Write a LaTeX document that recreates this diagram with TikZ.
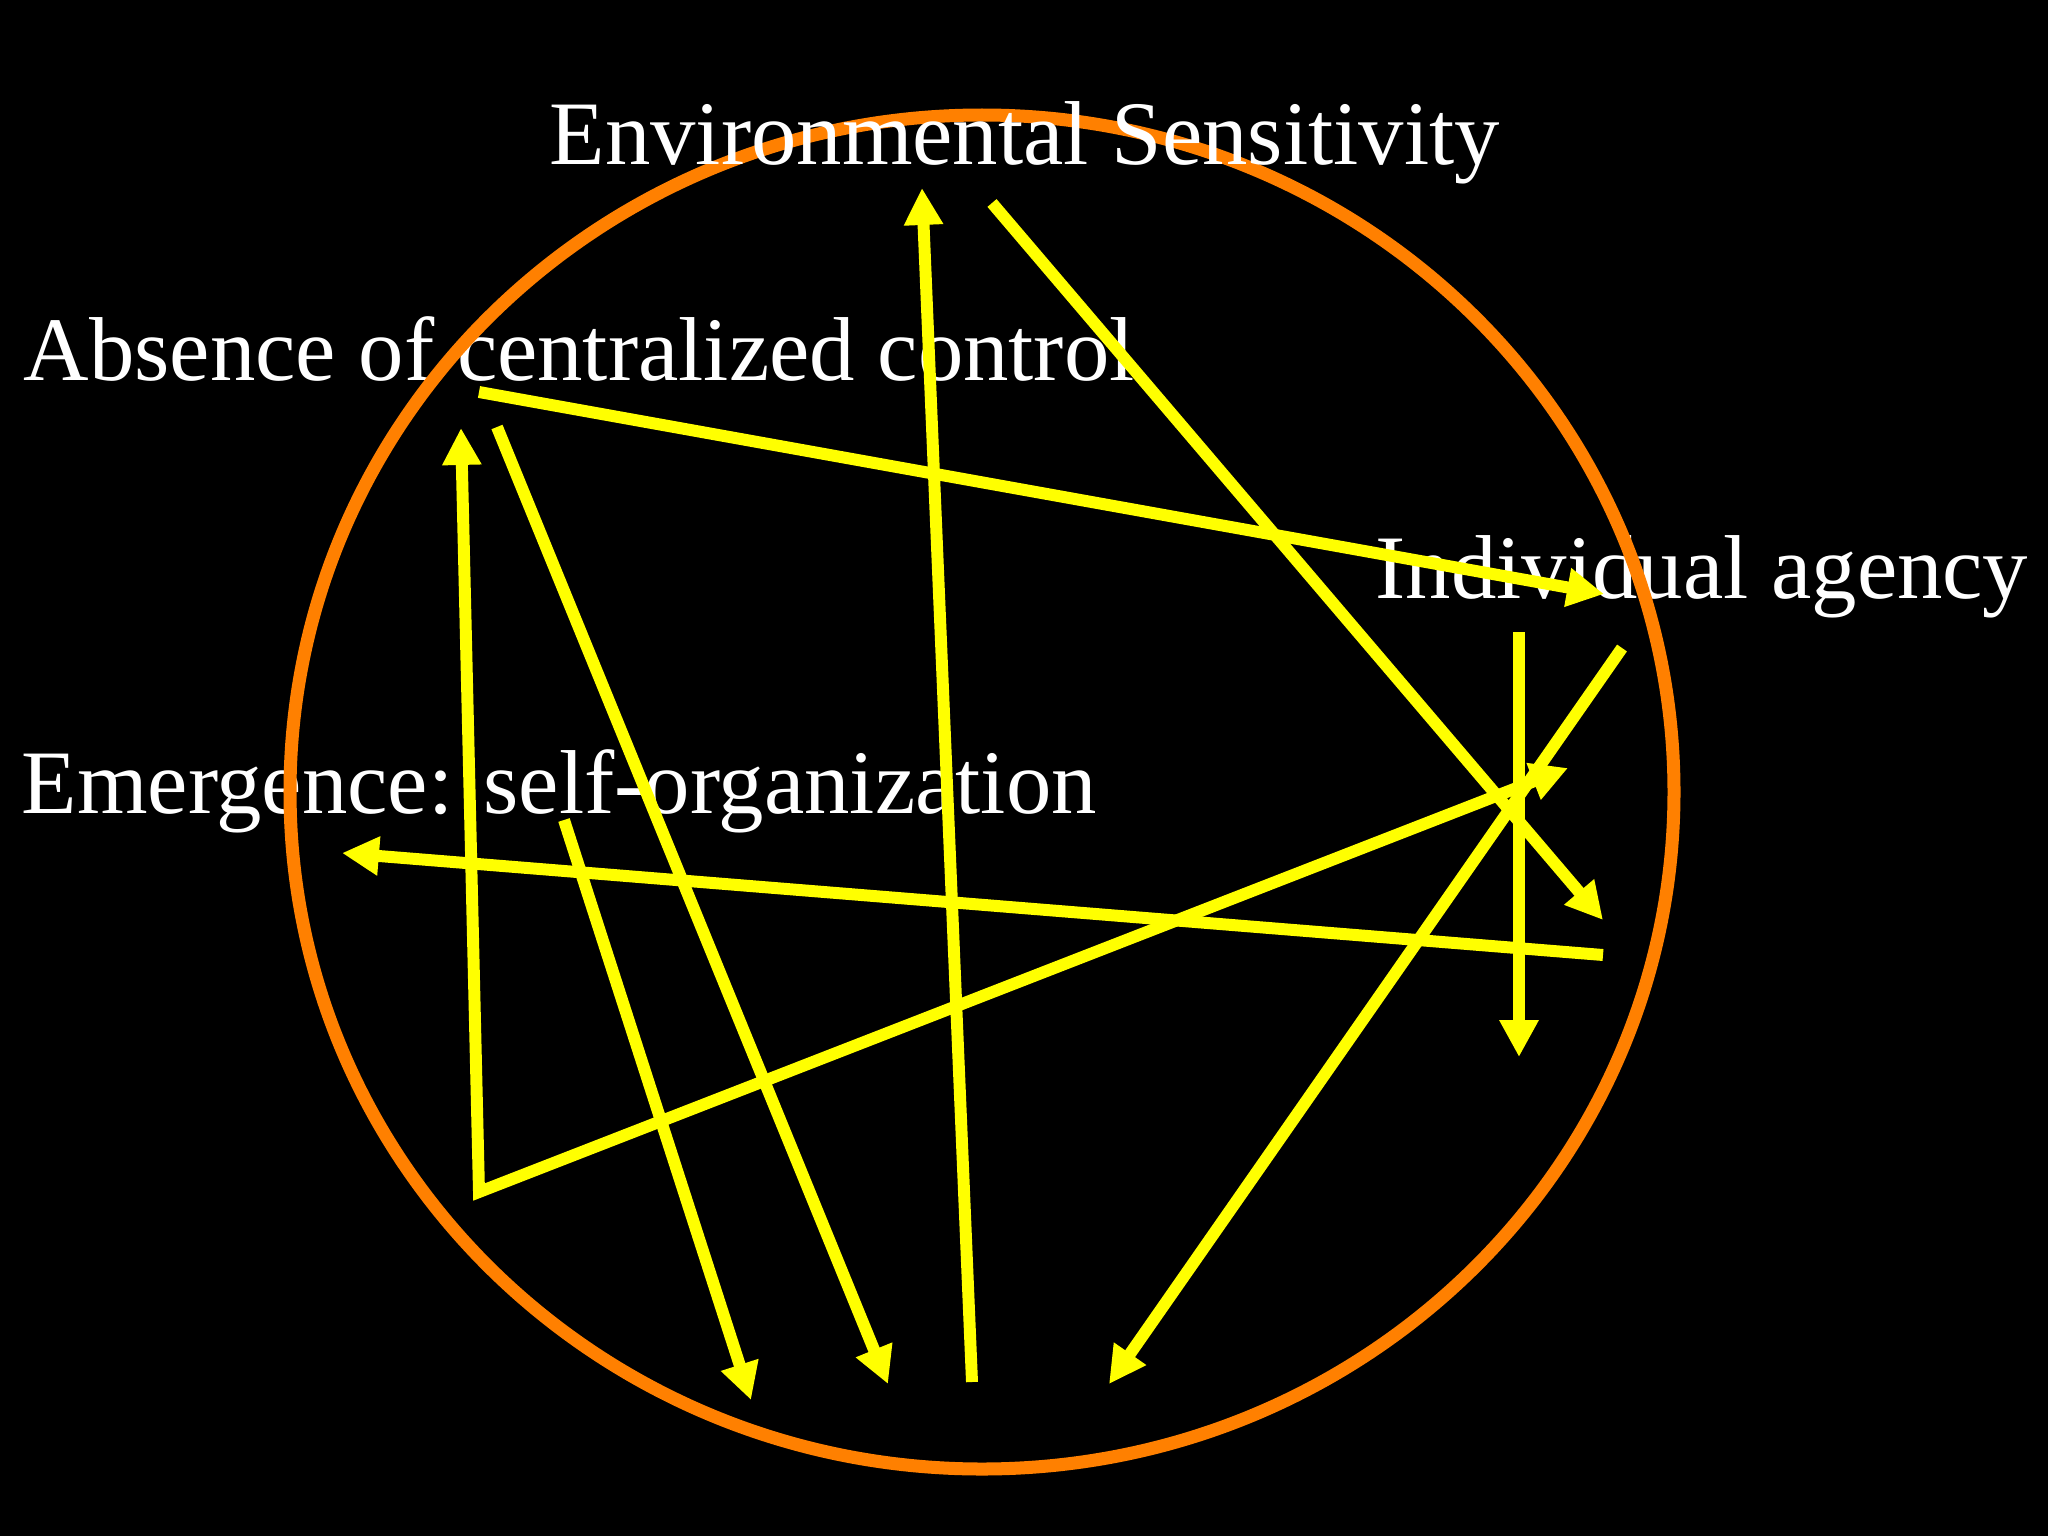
\documentclass[tikz,border=0pt]{standalone}
\usepackage{fontspec}
\setmainfont{Liberation Serif}
\usetikzlibrary{arrows.meta}
\definecolor{ringorange}{RGB}{255,128,0}
\definecolor{linkyellow}{RGB}{255,255,0}

\begin{document}
\begin{tikzpicture}[x = 0.01cm, y = -0.01cm,
        topic/.style = {text = white, anchor = base west, inner sep = 0pt, font = \fontsize{25.8}{30}\selectfont},
        ring/.style = {draw = ringorange, line width = 3.7pt},
        link/.style = {draw = linkyellow, line width = 3.4pt, -{Triangle[length = 10.5pt, width = 10.5pt]}},
    ]
    \fill[black] (0,0) rectangle (2048,1536);
    \useasboundingbox (0,0) rectangle (2048,1536);

    \node[topic] (absence) at (23,380) {Absence of centralized control};
    \node[topic] (agency) at (1375,598) {Individual agency};
    \node[topic] (emergence) at (21,813) {Emergence: self-organization};
    \draw[ring] (982,792) ellipse [x radius = 692, y radius = 677];
    \node[topic] (sensitivity) at (549,164) {Environmental Sensitivity};

    % ends of the arrows
    \coordinate (envUpS) at (972,1382);   \coordinate (envUpT) at (922,188);
    \coordinate (envDnS) at (992,203);    \coordinate (envDnT) at (1603,920);
    \coordinate (absRtS) at (479,392);    \coordinate (absRtT) at (1604,594);
    \coordinate (absDnS) at (497,427);    \coordinate (absDnT) at (888,1384);
    \coordinate (emeDnS) at (564,820);    \coordinate (emeDnT) at (751,1400);
    \coordinate (corner) at (479,1192);
    \coordinate (cornUpT) at (461,428);   \coordinate (cornRtT) at (1568,768);
    \coordinate (indDnS) at (1622,648);   \coordinate (indDnT) at (1109,1384);
    \coordinate (indVtS) at (1519,632);   \coordinate (indVtT) at (1519,1057);
    \coordinate (indLtS) at (1603,955);   \coordinate (indLtT) at (342,853);

    \draw[link] (envUpS) -- (envUpT);
    \draw[link] (envDnS) -- (envDnT);
    \draw[link] (absRtS) -- (absRtT);
    \draw[link] (absDnS) -- (absDnT);
    \draw[link] (emeDnS) -- (emeDnT);
    \draw[link, {Triangle[length = 10.5pt, width = 10.5pt]}-{Triangle[length = 10.5pt, width = 10.5pt]}] (cornUpT) -- (corner) -- (cornRtT);
    \draw[link] (indDnS) -- (indDnT);
    \draw[link] (indVtS) -- (indVtT);
    \draw[link] (indLtS) -- (indLtT);
\end{tikzpicture}
\end{document}
